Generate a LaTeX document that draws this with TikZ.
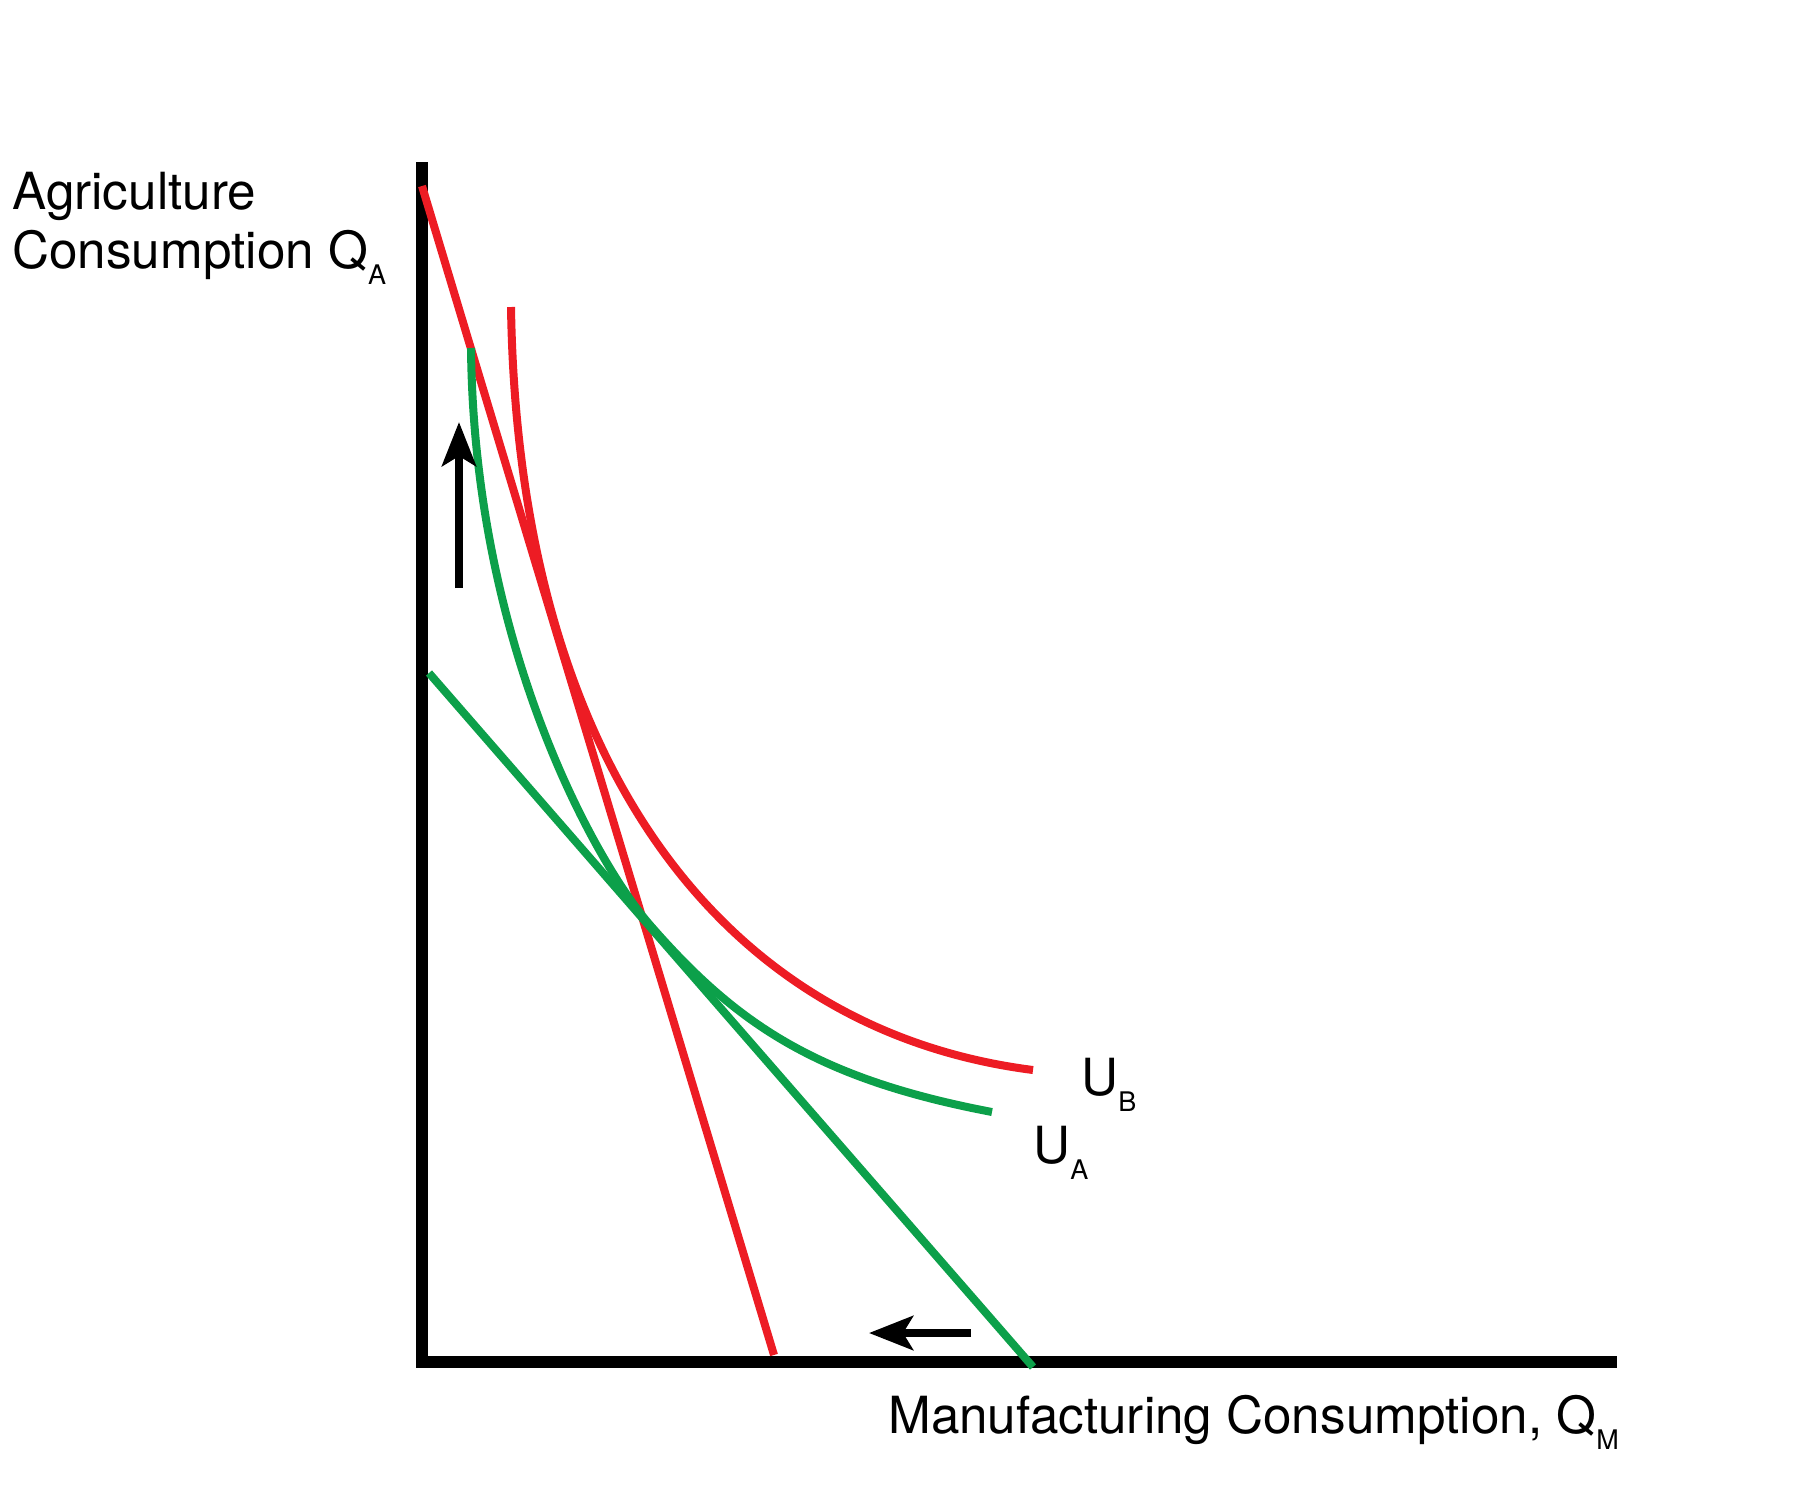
\documentclass[tikz,border=0pt]{standalone}
\usepackage{fontspec}
\setmainfont{TeX Gyre Heros}
\usetikzlibrary{arrows.meta}
\definecolor{ubred}{RGB}{237,28,36}
\definecolor{uagreen}{RGB}{12,160,74}
\newcommand{\sub}[1]{\raisebox{-8pt}{\fontsize{13.5}{13.5}\selectfont #1}}

\begin{document}
\begin{tikzpicture}[
    x=0.5pt, y=-0.5pt,
    axis/.style={line width=6pt, line join=miter},
    budget/.style={line width=4pt},
    indiff/.style={line width=4pt},
    movearrow/.style={line width=4pt, -{Stealth[length=22pt, width=17pt, inset=5pt]}},
    lbl/.style={inner sep=0pt, font=\fontsize{25.6}{30}\selectfont}
]
\useasboundingbox (0,0) rectangle (1801,1501);
% axes
\coordinate (ytop) at (422,162);
\coordinate (origin) at (422,1362);
\coordinate (xend) at (1617,1362);
\draw[axis] (ytop) -- (origin) -- (xend);
% budget lines
\coordinate (redA) at (422,186);
\coordinate (redM) at (774,1355);
\coordinate (greenA) at (429,673);
\coordinate (greenM) at (1033,1367);
\draw[budget, ubred] (redA) -- (redM);
\draw[budget, uagreen] (greenA) -- (greenM);
% indifference curves
\coordinate (ubstart) at (511,307);
\coordinate (ubend) at (1033,1070);
\draw[indiff, ubred] (ubstart) .. controls (518,760) and (720,1030) .. (ubend);
\coordinate (uastart) at (471,348);
\coordinate (uatouch) at (650,925);
\coordinate (uaend) at (992,1112);
\draw[indiff, uagreen] (uastart) .. controls (474,648) and (597.4,864.8) .. (uatouch)
    .. controls (735.5,1022.9) and (815.3,1078.4) .. (uaend);
% shifts
\coordinate (uptail) at (459,588);
\coordinate (uphead) at (459,422);
\coordinate (lefttail) at (971,1333);
\coordinate (lefthead) at (869,1333);
\draw[movearrow] (uptail) -- (uphead);
\draw[movearrow] (lefttail) -- (lefthead);
% labels
\node[lbl, anchor=base west] (ylab1) at (12,209) {Agriculture};
\node[lbl, anchor=base west] (ylab2) at (12,268) {Consumption Q\sub{A}};
\node[lbl, anchor=base west] (xlab) at (888,1433) {Manufacturing Consumption, Q\sub{M}};
\node[lbl, anchor=base west] (ublab) at (1081,1095) {U\sub{B}};
\node[lbl, anchor=base west] (ualab) at (1033,1163) {U\sub{A}};
\end{tikzpicture}
\end{document}
